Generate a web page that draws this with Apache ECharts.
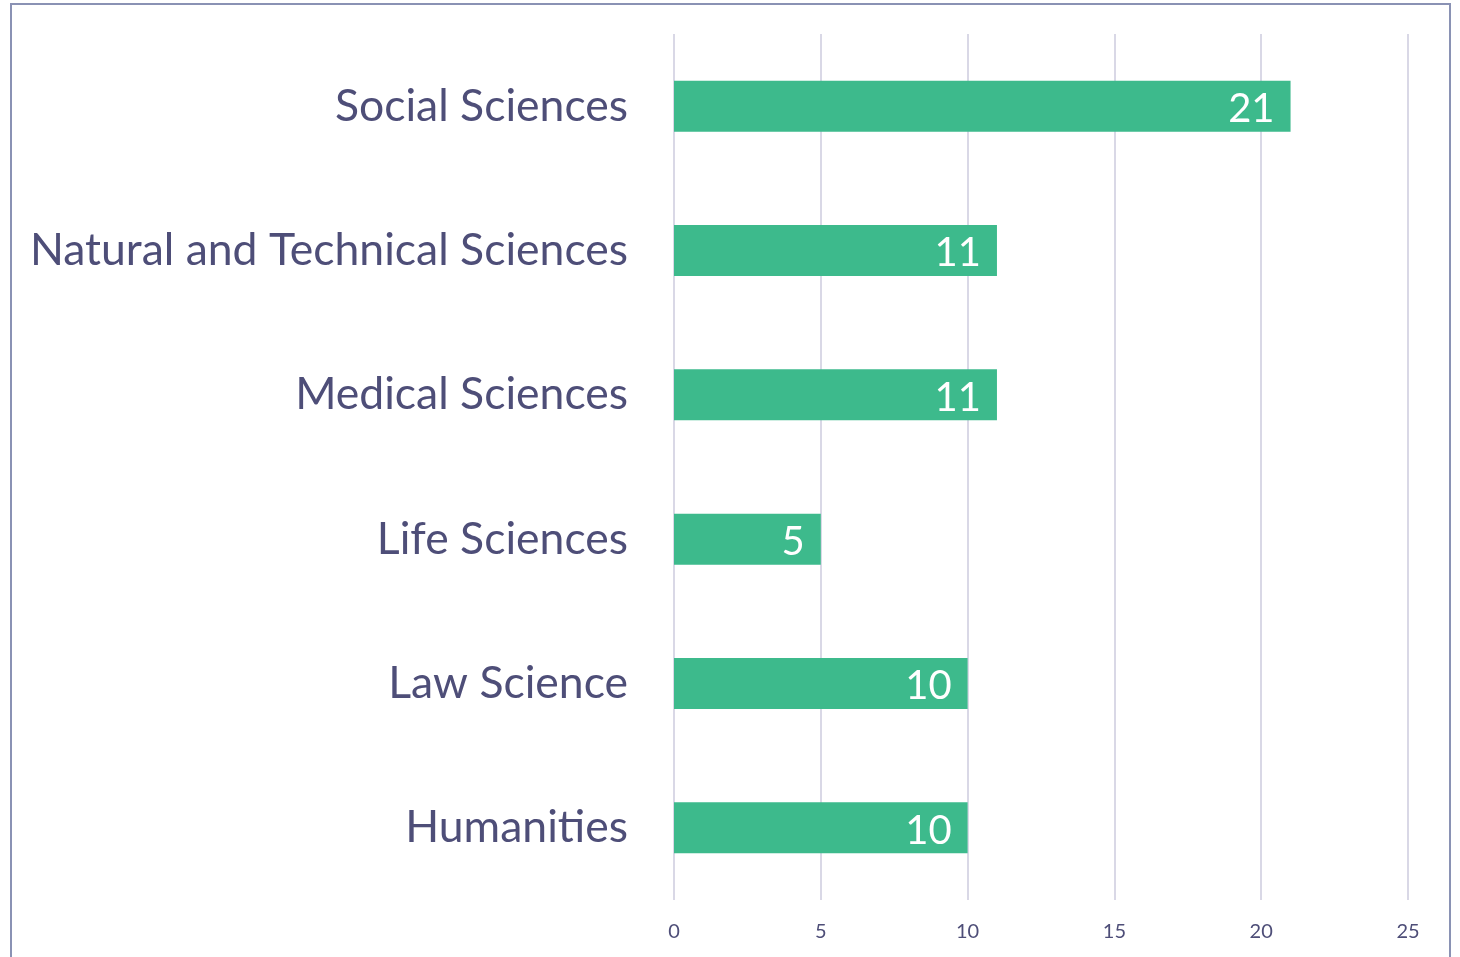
<!DOCTYPE html>
<html><head><meta charset="utf-8">
<script src="https://cdn.jsdelivr.net/npm/echarts@6/dist/echarts.min.js"></script>
<style>html,body{margin:0;padding:0;background:#fff}#c{width:1460px;height:957px}</style>
</head><body><div id="c"></div>
<script>
const categories = ["Social Sciences","Natural and Technical Sciences","Medical Sciences","Life Sciences","Law Science","Humanities"];
const values = [21, 11, 11, 5, 10, 10];
const axisTicks = [0, 5, 10, 15, 20, 25];

const chart = echarts.init(document.getElementById('c'), null, {renderer:'canvas'});
chart.setOption({
  animation: false,
  backgroundColor: '#ffffff',
  graphic: [{
    type: 'rect', shape: {x: 11, y: 4, width: 1439, height: 1000},
    style: {fill: 'none', stroke: '#8a92b4', lineWidth: 2}
  }],
  grid: {left: 674, right: 52, top: 34, bottom: 57, containLabel: false},
  xAxis: {
    type: 'value', min: axisTicks[0], max: axisTicks[axisTicks.length-1], interval: 5,
    axisLine: {show: false}, axisTick: {show: false},
    splitLine: {show: true, lineStyle: {color: '#d9d8e6', width: 2}},
    axisLabel: {color: '#4e4e78', fontSize: 20, fontFamily: 'Lato', margin: 22}
  },
  yAxis: {
    type: 'category', data: categories, inverse: true,
    axisLine: {show: false}, axisTick: {show: false},
    axisLabel: {color: '#4e4e78', fontSize: 44.5, fontFamily: 'Lato', margin: 46, padding: [4, 0, 0, 0]}
  },
  series: [{
    type: 'bar', data: values, barWidth: 51,
    itemStyle: {color: '#3dba8c'},
    label: {show: true, position: 'insideRight', color: '#ffffff', fontSize: 40, fontFamily: 'Lato', distance: 16, offset: [0, 3]}
  }]
});
</script></body></html>
